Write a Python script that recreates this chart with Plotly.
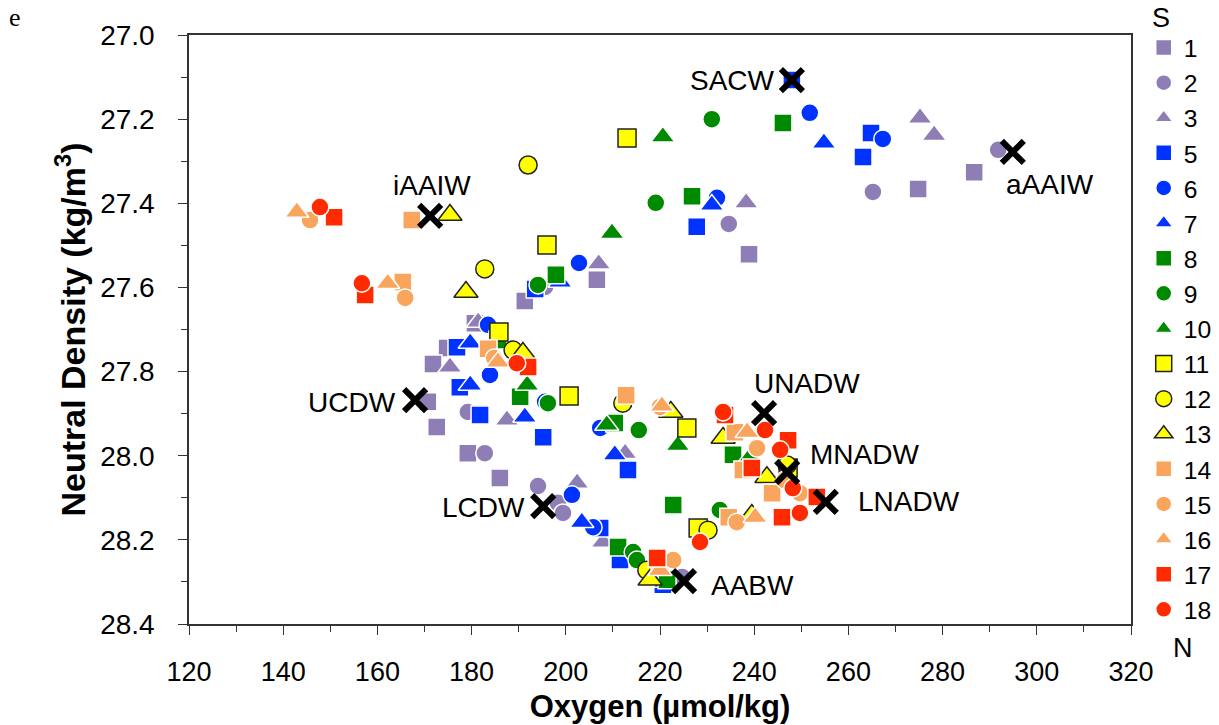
import plotly.graph_objects as go

# ---------------- data (oxygen µmol/kg, neutral density kg/m3) ----------------
s1_o2 = [286.7, 274.8, 238.9, 206.6, 191.3, 180.7, 174.8, 171.8, 170.7, 172.6, 179.2, 186.0]
s1_nd = [27.326, 27.366, 27.521, 27.582, 27.632, 27.685, 27.744, 27.782, 27.872, 27.932, 27.994, 28.053]

s2_o2 = [291.8, 265.2, 234.6, 195.6, 179.2, 182.8, 194.1, 198.3, 199.4, 224.7]
s2_nd = [27.273, 27.373, 27.449, 27.599, 27.896, 27.994, 28.072, 28.112, 28.136, 28.288]

s3_o2 = [275.2, 278.2, 238.3, 207.0, 181.4, 175.4, 187.5, 212.6, 202.4, 207.9]
s3_nd = [27.197, 27.238, 27.399, 27.544, 27.682, 27.789, 27.915, 27.994, 28.065, 28.205]

s5_o2 = [248.0, 264.8, 263.1, 227.8, 193.5, 176.9, 177.5, 181.8, 195.2, 213.2, 207.3, 211.5, 220.6]
s5_nd = [27.107, 27.233, 27.290, 27.456, 27.604, 27.742, 27.837, 27.903, 27.956, 28.034, 28.172, 28.248, 28.307]

s6_o2 = [251.8, 267.3, 232.1, 202.8, 183.5, 183.9, 195.6, 207.3, 201.3, 205.8]
s6_nd = [27.185, 27.247, 27.387, 27.542, 27.689, 27.808, 27.872, 27.934, 28.093, 28.170]

s7_o2 = [254.8, 231.0, 198.8, 179.7, 179.7, 191.3, 210.4, 203.4, 221.1]
s7_nd = [27.257, 27.404, 27.587, 27.732, 27.832, 27.908, 27.998, 28.158, 28.300]

s8_o2 = [246.1, 226.8, 197.9, 185.6, 190.3, 210.4, 235.5, 222.8, 211.1, 221.5]
s8_nd = [27.209, 27.383, 27.570, 27.725, 27.860, 27.922, 27.998, 28.117, 28.217, 28.295]

s9_o2 = [231.0, 219.1, 194.1, 196.2, 215.5, 232.7, 214.3, 215.1]
s9_nd = [27.200, 27.399, 27.594, 27.875, 27.939, 28.129, 28.229, 28.248]

s10_o2 = [220.6, 209.8, 191.8, 208.7, 223.8, 239.1, 229.5]
s10_nd = [27.242, 27.471, 27.832, 27.927, 27.975, 28.003, 28.170]

s11_o2 = [213.0, 196.0, 185.8, 200.7, 225.7, 247.2, 228.1]
s11_nd = [27.245, 27.499, 27.706, 27.858, 27.934, 28.029, 28.172]

s12_o2 = [192.0, 182.8, 188.8, 212.1, 247.0, 230.2, 217.2]
s12_nd = [27.309, 27.556, 27.749, 27.875, 28.022, 28.177, 28.272]

s13_o2 = [175.4, 178.8, 190.9, 222.3, 233.4, 242.7, 239.5, 217.9]
s13_nd = [27.428, 27.611, 27.756, 27.896, 27.958, 28.051, 28.141, 28.295]

s14_o2 = [167.3, 165.4, 183.5, 212.8, 235.9, 237.6, 243.8, 234.6, 220.0]
s14_nd = [27.440, 27.587, 27.746, 27.856, 27.944, 28.034, 28.089, 28.146, 28.260]

s15_o2 = [145.7, 165.9, 184.8, 220.0, 240.6, 246.5, 249.7, 236.3, 222.8]
s15_nd = [27.440, 27.625, 27.768, 27.884, 27.982, 28.058, 28.089, 28.158, 28.248]

s16_o2 = [142.9, 162.2, 185.6, 220.4, 238.5, 240.2, 220.0]
s16_nd = [27.421, 27.590, 27.777, 27.882, 27.944, 28.146, 28.272]

s17_o2 = [150.8, 157.4, 192.0, 233.8, 247.2, 239.5, 253.3, 245.9, 219.4]
s17_nd = [27.433, 27.618, 27.789, 27.903, 27.963, 28.029, 28.098, 28.146, 28.243]

s18_o2 = [147.8, 156.7, 189.6, 233.4, 242.3, 245.5, 248.2, 249.7, 228.5]
s18_nd = [27.409, 27.590, 27.780, 27.896, 27.939, 27.986, 28.077, 28.136, 28.205]

series_names = ["1", "2", "3", "5", "6", "7", "8", "9", "10", "11", "12", "13", "14", "15", "16", "17", "18"]
series_o2 = [s1_o2, s2_o2, s3_o2, s5_o2, s6_o2, s7_o2, s8_o2, s9_o2, s10_o2, s11_o2,
             s12_o2, s13_o2, s14_o2, s15_o2, s16_o2, s17_o2, s18_o2]
series_nd = [s1_nd, s2_nd, s3_nd, s5_nd, s6_nd, s7_nd, s8_nd, s9_nd, s10_nd, s11_nd,
             s12_nd, s13_nd, s14_nd, s15_nd, s16_nd, s17_nd, s18_nd]

wm_names = ["SACW", "aAAIW", "iAAIW", "UCDW", "UNADW", "MNADW", "LNADW", "LCDW", "AABW"]
wm_o2 = [248.0, 294.9, 171.2, 168.0, 242.1, 247.0, 255.2, 195.2, 225.1]
wm_nd = [27.107, 27.278, 27.430, 27.868, 27.899, 28.039, 28.110, 28.120, 28.298]

x_ticks = [120, 140, 160, 180, 200, 220, 240, 260, 280, 300, 320]
y_ticks = [27.0, 27.2, 27.4, 27.6, 27.8, 28.0, 28.2, 28.4]

# ---------------- styles ----------------
PURPLE = "#8f7db5"
BLUE = "#0033ff"
GREEN = "#008a00"
YELLOW = "#ffff00"
ORANGE = "#f9a55e"
RED = "#ff2a00"
colors = [PURPLE] * 3 + [BLUE] * 3 + [GREEN] * 3 + [YELLOW] * 3 + [ORANGE] * 3 + [RED] * 2
symbols = ["square", "circle", "triangle-up"] * 5 + ["square", "circle"]
marker_size = {"square": 18, "circle": 18, "triangle-up": 21}
FONT = "Liberation Sans, Arial, sans-serif"

fig = go.Figure()
for name, xs, ys, col, sym in zip(series_names, series_o2, series_nd, colors, symbols):
    edge = "#222222" if col == YELLOW else "white"
    fig.add_trace(go.Scatter(
        x=xs, y=ys, mode="markers", name=name,
        marker=dict(symbol=sym, size=marker_size[sym], color=col, line=dict(color=edge, width=1.5)),
    ))

fig.add_trace(go.Scatter(
    x=wm_o2, y=wm_nd, mode="markers", showlegend=False,
    marker=dict(symbol="x-thin", size=22, line=dict(color="black", width=6)),
))

# labels for water masses (anchor, shift x, shift y)
label_style = {
    "SACW": ("right", -15, 0),
    "aAAIW": ("left", -9, -33),
    "iAAIW": ("center", 2, 30),
    "UCDW": ("right", -17, -2),
    "UNADW": ("left", -12, 30),
    "MNADW": ("left", 21, 18),
    "LNADW": ("left", 30, 0),
    "LCDW": ("right", -16, -1),
    "AABW": ("left", 25, -4),
}
for n, xv, yv in zip(wm_names, wm_o2, wm_nd):
    anc, dx, dy = label_style[n]
    fig.add_annotation(x=xv, y=yv, text=n, showarrow=False, xanchor=anc, yanchor="middle",
                       xshift=dx, yshift=dy, font=dict(family=FONT, size=28, color="black"))

fig.add_annotation(xref="paper", yref="paper", x=-0.1847, y=1.029, text="e", showarrow=False,
                   xanchor="center", yanchor="middle",
                   font=dict(family="Liberation Serif, Times New Roman, serif", size=26, color="black"))
fig.add_annotation(xref="paper", yref="paper", x=1.0318, y=1.029, text="S", showarrow=False,
                   xanchor="center", yanchor="middle",
                   font=dict(family=FONT, size=27, color="black"))
fig.add_annotation(xref="paper", yref="paper", x=1.0552, y=-0.0407, text="N", showarrow=False,
                   xanchor="center", yanchor="middle",
                   font=dict(family=FONT, size=27, color="black"))

axis_line = dict(showline=True, linecolor="#333333", linewidth=1.5, mirror=True,
                 showgrid=False, zeroline=False)

fig.update_layout(
    width=1219, height=725,
    margin=dict(l=189, r=88, t=35, b=101, autoexpand=False),
    paper_bgcolor="white", plot_bgcolor="white",
    font=dict(family=FONT, color="black"),
    xaxis=dict(range=[120, 320], tickvals=x_ticks, ticks="outside", ticklen=9, tickwidth=1.2,
               tickcolor="#333333", ticklabelstandoff=14,
               tickfont=dict(size=27),
               minor=dict(dtick=10, ticks="outside", ticklen=6, tickcolor="#333333", tickwidth=1),
               title=dict(text="<b>Oxygen (µmol/kg)</b>", font=dict(size=31), standoff=9),
               **axis_line),
    yaxis=dict(range=[28.4, 27.0], tickvals=y_ticks, tickformat=".1f", ticks="outside", ticklen=9,
               tickwidth=1.2, tickcolor="#333333", ticklabelstandoff=18,
               tickfont=dict(size=28),
               minor=dict(dtick=0.1, ticks="outside", ticklen=6, tickcolor="#333333", tickwidth=1),
               title=dict(text="<b>Neutral Density (kg/m<sup>3</sup>)</b>", font=dict(size=34), standoff=4),
               **axis_line),
    xaxis2=dict(overlaying="x", anchor="y", range=[120, 320], tickvals=x_ticks, ticks="inside",
                ticklen=9, tickwidth=1.2, tickcolor="#333333", showticklabels=False,
                showgrid=False, zeroline=False, showline=False),
    yaxis2=dict(overlaying="y", anchor="x", range=[28.4, 27.0], tickvals=y_ticks, ticks="inside",
                ticklen=9, tickwidth=1.2, tickcolor="#333333", showticklabels=False,
                showgrid=False, zeroline=False, showline=False),
    legend=dict(x=1.0135, y=1.017, xanchor="left", yanchor="top", maxheight=720,
                font=dict(size=24.7, family=FONT), bgcolor="rgba(0,0,0,0)",
                itemsizing="trace", tracegroupgap=0),
)

fig.write_html("out.html")
